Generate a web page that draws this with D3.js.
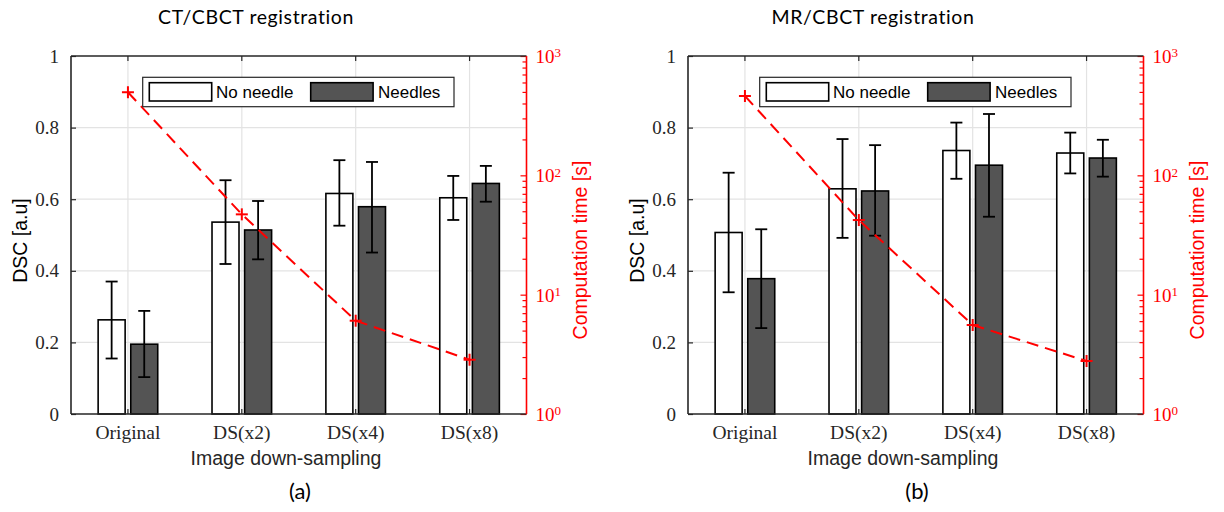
<!DOCTYPE html>
<html>
<head>
<meta charset="utf-8">
<script src="https://cdn.jsdelivr.net/npm/d3@7"></script>
<style>
  html, body { margin: 0; padding: 0; background: #fff; }
  svg { display: block; }
</style>
</head>
<body>
<svg id="chart" width="1224" height="512"></svg>
<script>
// ---------------- data ----------------
const categories = ["Original", "DS(x2)", "DS(x4)", "DS(x8)"];
const seriesNames = ["No needle", "Needles"];
const panelTitles = ["CT/CBCT registration", "MR/CBCT registration"];
const panelLetters = ["(a)", "(b)"];
const dscTicks = [0, 0.2, 0.4, 0.6, 0.8, 1];
const timeTicks = [1, 10, 100, 1000];

// CT/CBCT
const ctNoNeedle       = [0.263, 0.536, 0.616, 0.604];
const ctNoNeedleUpper  = [0.370, 0.653, 0.709, 0.665];
const ctNoNeedleLower  = [0.155, 0.419, 0.526, 0.542];
const ctNeedles        = [0.195, 0.514, 0.579, 0.644];
const ctNeedlesUpper   = [0.288, 0.595, 0.704, 0.693];
const ctNeedlesLower   = [0.103, 0.432, 0.451, 0.593];
const ctTime           = [497, 47.1, 6.05, 2.85];

// MR/CBCT
const mrNoNeedle       = [0.507, 0.629, 0.736, 0.729];
const mrNoNeedleUpper  = [0.674, 0.768, 0.814, 0.786];
const mrNoNeedleLower  = [0.340, 0.492, 0.657, 0.672];
const mrNeedles        = [0.378, 0.623, 0.695, 0.715];
const mrNeedlesUpper   = [0.516, 0.751, 0.838, 0.766];
const mrNeedlesLower   = [0.240, 0.498, 0.551, 0.663];
const mrTime           = [462, 42.2, 5.57, 2.78];

const panels = [
  { title: panelTitles[0], letter: panelLetters[0], time: ctTime,
    series: [
      { name: seriesNames[0], values: ctNoNeedle, upper: ctNoNeedleUpper, lower: ctNoNeedleLower },
      { name: seriesNames[1], values: ctNeedles,  upper: ctNeedlesUpper,  lower: ctNeedlesLower }
    ] },
  { title: panelTitles[1], letter: panelLetters[1], time: mrTime,
    series: [
      { name: seriesNames[0], values: mrNoNeedle, upper: mrNoNeedleUpper, lower: mrNoNeedleLower },
      { name: seriesNames[1], values: mrNeedles,  upper: mrNeedlesUpper,  lower: mrNeedlesLower }
    ] }
];

// ---------------- styles ----------------
const SANS = "'Liberation Sans', Arial, sans-serif";
const SERIF = "'Liberation Serif', 'Times New Roman', serif";
const TITLE_FONT = "Lato, 'Open Sans', sans-serif";
const fills = { "No needle": "#ffffff", "Needles": "#545454" };
const RED = "#ff0000";
const GRID = "#e3e3e3";
const TXT = "#262626";

const svg = d3.select("#chart");

const plotLeft = 71, plotRight = 526.5, plotTop = 56, plotBottom = 414;
const panelDX = 617;

panels.forEach((p, pi) => {
  const g = svg.append("g").attr("transform", `translate(${pi * panelDX},0)`);

  const x = d3.scaleBand().domain(categories).range([plotLeft, plotRight]).paddingInner(0).paddingOuter(0);
  const cx = c => x(c) + x.bandwidth() / 2;
  const sub = d3.scaleBand().domain(seriesNames).range([-29.8, 29.8]).paddingInner(0.172).paddingOuter(0);
  const y = d3.scaleLinear().domain([0, 1]).range([plotBottom, plotTop]);
  const yt = d3.scaleLog().domain([1, 1000]).range([plotBottom, plotTop]);

  // grid
  const grid = g.append("g");
  grid.selectAll("line.hg").data(dscTicks.filter(v => v > 0 && v < 1)).join("line")
    .attr("x1", plotLeft).attr("x2", plotRight)
    .attr("y1", d => y(d)).attr("y2", d => y(d))
    .attr("stroke", GRID).attr("stroke-width", 1.2);
  grid.selectAll("line.vg").data(categories).join("line")
    .attr("x1", d => cx(d)).attr("x2", d => cx(d))
    .attr("y1", plotTop).attr("y2", plotBottom)
    .attr("stroke", GRID).attr("stroke-width", 1.2);

  // bars
  p.series.forEach(s => {
    const data = categories.map((c, i) => ({ c, v: s.values[i], hi: s.upper[i], lo: s.lower[i] }));
    g.append("g").selectAll("rect").data(data).join("rect")
      .attr("x", d => cx(d.c) + sub(s.name))
      .attr("width", sub.bandwidth())
      .attr("y", d => y(d.v))
      .attr("height", d => y(0) - y(d.v))
      .attr("fill", fills[s.name])
      .attr("stroke", "#000").attr("stroke-width", 1.6);
  });

  // error bars
  p.series.forEach(s => {
    const data = categories.map((c, i) => ({ c, v: s.values[i], hi: s.upper[i], lo: s.lower[i] }));
    const eg = g.append("g").attr("stroke", "#000").attr("stroke-width", 1.8).attr("fill", "none");
    const ex = d => cx(d.c) + sub(s.name) + sub.bandwidth() / 2;
    eg.selectAll("line.v").data(data).join("line")
      .attr("x1", ex).attr("x2", ex)
      .attr("y1", d => y(d.hi)).attr("y2", d => y(d.lo));
    eg.selectAll("line.t").data(data).join("line")
      .attr("x1", d => ex(d) - 6).attr("x2", d => ex(d) + 6)
      .attr("y1", d => y(d.hi)).attr("y2", d => y(d.hi));
    eg.selectAll("line.b").data(data).join("line")
      .attr("x1", d => ex(d) - 6).attr("x2", d => ex(d) + 6)
      .attr("y1", d => y(d.lo)).attr("y2", d => y(d.lo));
  });

  // axes: left
  const yAxis = d3.axisLeft(y).tickValues(dscTicks).tickSize(-5).tickPadding(12)
    .tickFormat(d => d === 0 || d === 1 ? d3.format("d")(d) : d3.format(".1f")(d));
  const ya = g.append("g").attr("transform", `translate(${plotLeft},0)`).call(yAxis);
  ya.select(".domain").remove();
  ya.selectAll(".tick line").attr("stroke", TXT).attr("stroke-width", 1.2);
  ya.selectAll(".tick text").attr("font-family", SERIF).attr("font-size", 19).attr("fill", TXT);

  // bottom axis
  const xAxis = d3.axisBottom(x).tickSize(-5).tickPadding(11);
  const xa = g.append("g").attr("transform", `translate(0,${plotBottom})`).call(xAxis);
  xa.select(".domain").remove();
  xa.selectAll(".tick line").attr("stroke", TXT).attr("stroke-width", 1.2);
  xa.selectAll(".tick text").attr("font-family", SERIF).attr("font-size", 19.5).attr("fill", TXT);

  // top ticks
  const xTop = d3.axisTop(x).tickSize(-5).tickFormat("");
  const xt = g.append("g").attr("transform", `translate(0,${plotTop})`).call(xTop);
  xt.select(".domain").remove();
  xt.selectAll(".tick line").attr("stroke", TXT).attr("stroke-width", 1.2);

  // right log axis (red)
  const minor = [];
  for (let e = 0; e < 3; e++) for (let m = 2; m <= 9; m++) minor.push(m * Math.pow(10, e));
  const yrMinor = d3.axisRight(yt).tickValues(minor).tickSize(-4).tickFormat("");
  const yrm = g.append("g").attr("transform", `translate(${plotRight},0)`).call(yrMinor);
  yrm.select(".domain").remove();
  yrm.selectAll(".tick line").attr("stroke", RED).attr("stroke-width", 1.2);

  const yrAxis = d3.axisRight(yt).tickValues(timeTicks).tickSize(-6).tickPadding(10).tickFormat("");
  const yr = g.append("g").attr("transform", `translate(${plotRight},0)`).call(yrAxis);
  yr.select(".domain").remove();
  yr.selectAll(".tick line").attr("stroke", RED).attr("stroke-width", 1.2);
  const lbl = yr.selectAll(".tick").append("text")
    .attr("x", 9).attr("dy", "0.35em")
    .attr("font-family", SERIF).attr("font-size", 19).attr("fill", RED)
    .attr("text-anchor", "start");
  lbl.append("tspan").text("10");
  lbl.append("tspan").attr("dy", "-0.45em").attr("font-size", 13).text(d => Math.round(Math.log10(d)));

  // frame
  const fr = g.append("g").attr("fill", "none").attr("stroke-width", 1.6);
  fr.append("line").attr("x1", plotLeft).attr("x2", plotRight).attr("y1", plotTop).attr("y2", plotTop).attr("stroke", TXT);
  fr.append("line").attr("x1", plotLeft).attr("x2", plotRight).attr("y1", plotBottom).attr("y2", plotBottom).attr("stroke", TXT);
  fr.append("line").attr("x1", plotLeft).attr("x2", plotLeft).attr("y1", plotTop).attr("y2", plotBottom).attr("stroke", TXT);
  fr.append("line").attr("x1", plotRight).attr("x2", plotRight).attr("y1", plotTop).attr("y2", plotBottom).attr("stroke", RED);

  // computation time line
  const tdata = categories.map((c, i) => ({ c, t: p.time[i] }));
  const line = d3.line().x(d => cx(d.c)).y(d => yt(d.t));
  g.append("path").datum(tdata).attr("d", line)
    .attr("fill", "none").attr("stroke", RED).attr("stroke-width", 2)
    .attr("stroke-dasharray", "12,7");
  const mk = g.append("g").attr("stroke", RED).attr("stroke-width", 2);
  mk.selectAll("line.h").data(tdata).join("line")
    .attr("x1", d => cx(d.c) - 6).attr("x2", d => cx(d.c) + 6)
    .attr("y1", d => yt(d.t)).attr("y2", d => yt(d.t));
  mk.selectAll("line.v").data(tdata).join("line")
    .attr("x1", d => cx(d.c)).attr("x2", d => cx(d.c))
    .attr("y1", d => yt(d.t) - 6).attr("y2", d => yt(d.t) + 6);

  // legend
  const lg = g.append("g").attr("transform", `translate(${plotLeft + 71.7},77.3)`);
  lg.append("rect").attr("width", 311.3).attr("height", 29.4)
    .attr("fill", "#fff").attr("stroke", TXT).attr("stroke-width", 1.2);
  const legendItems = [
    { name: seriesNames[0], px: 6.6, tx: 73.3 },
    { name: seriesNames[1], px: 168, tx: 235.3 }
  ];
  legendItems.forEach(it => {
    lg.append("rect").attr("x", it.px).attr("y", 5.4).attr("width", 62.4).attr("height", 18.3)
      .attr("fill", fills[it.name]).attr("stroke", "#000").attr("stroke-width", 1.6);
    lg.append("text").attr("x", it.tx).attr("y", 14.7).attr("dy", "0.35em")
      .attr("font-family", SANS).attr("font-size", 17).attr("fill", "#000").text(it.name);
  });

  // axis labels
  g.append("text").attr("transform", `translate(27,240.5) rotate(-90)`)
    .attr("text-anchor", "middle").attr("font-family", SANS).attr("font-size", 19.5)
    .attr("fill", "#000").text("DSC [a.u]");
  g.append("text").attr("transform", `translate(587,250) rotate(-90)`)
    .attr("text-anchor", "middle").attr("font-family", SANS).attr("font-size", 19.5)
    .attr("fill", RED).text("Computation time [s]");
  g.append("text").attr("x", 286).attr("y", 465)
    .attr("text-anchor", "middle").attr("font-family", SANS).attr("font-size", 19.5)
    .attr("fill", TXT).text("Image down-sampling");

  // title and letter
  g.append("text").attr("x", 256).attr("y", 24)
    .attr("text-anchor", "middle").attr("font-family", TITLE_FONT).attr("font-size", 19.5)
    .attr("letter-spacing", 0.6).attr("fill", "#000").text(p.title);
  g.append("text").attr("x", 300).attr("y", 499)
    .attr("text-anchor", "middle").attr("font-family", TITLE_FONT).attr("font-size", 22)
    .attr("fill", "#000").text(p.letter);
});
</script>
</body>
</html>
